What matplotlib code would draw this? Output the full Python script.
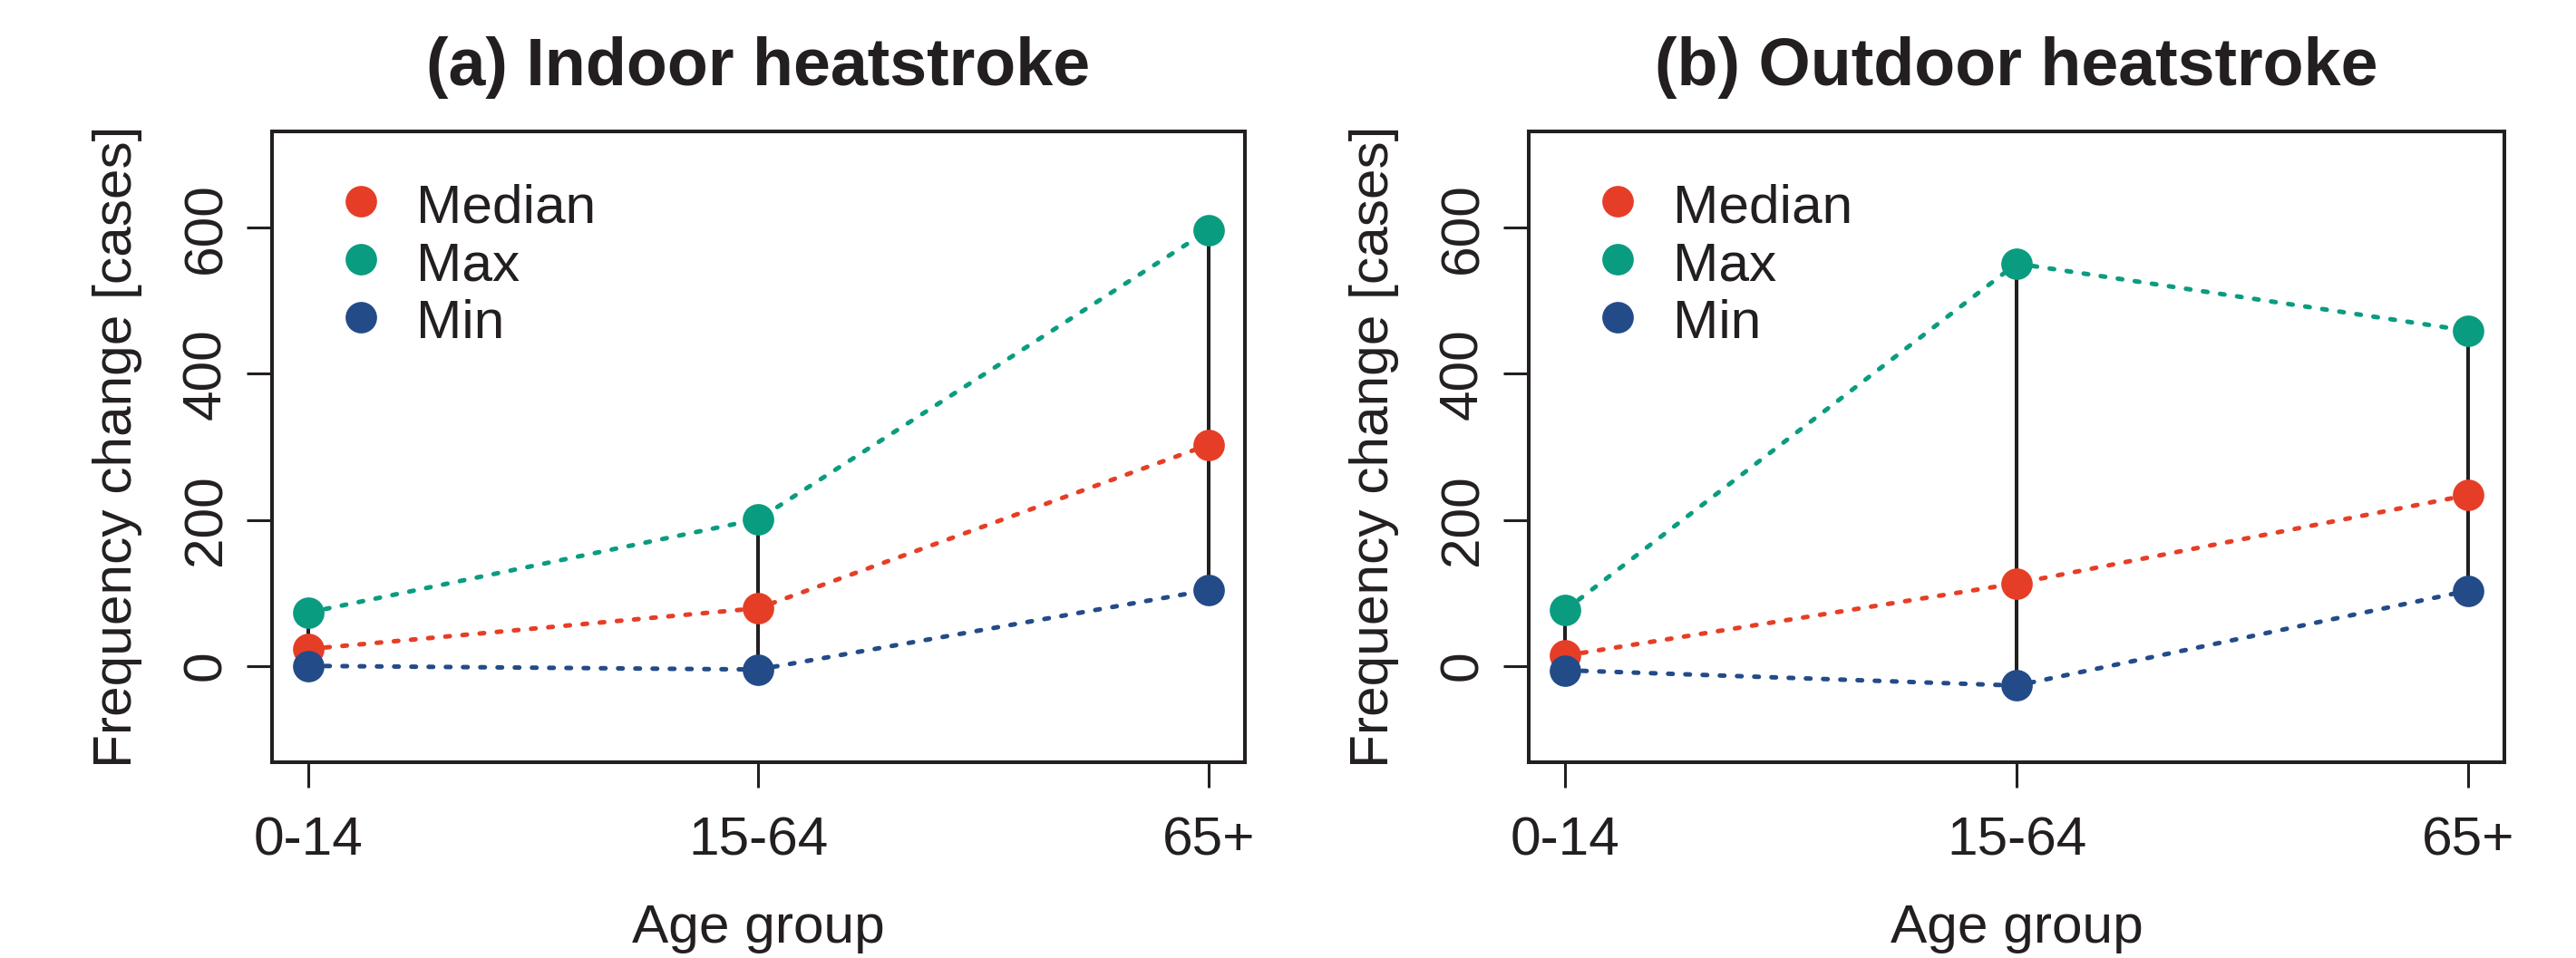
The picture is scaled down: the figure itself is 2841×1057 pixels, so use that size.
import numpy as np
import matplotlib.pyplot as plt

plt.rcParams['font.family'] = ['Liberation Sans', 'DejaVu Sans']

# Data
age_groups = ["0-14", "15-64", "65+"]
panel_titles = ["(a) Indoor heatstroke", "(b) Outdoor heatstroke"]

indoor_median = [23, 79, 303]
indoor_max = [73, 201, 597]
indoor_min = [0, -5, 104]

outdoor_median = [14, 113, 234]
outdoor_max = [76, 551, 459]
outdoor_min = [-6, -27, 103]

series_names = ["Median", "Max", "Min"]
series_colors = ["#E63E26", "#0A9C80", "#234B88"]
ink = "#231F20"

yticks = [0, 200, 400, 600]

fig = plt.figure(figsize=(28.41, 10.57), dpi=100)

panels = [
    (indoor_median, indoor_max, indoor_min),
    (outdoor_median, outdoor_max, outdoor_min),
]
lefts = [300 / 2841, 1686 / 2841]
widths = [1073 / 2841, 1076 / 2841]

x = np.arange(1, len(age_groups) + 1)

for i, (med, mx, mn) in enumerate(panels):
    ax = fig.add_axes([lefts[i], 216 / 1057, widths[i], 696 / 1057])

    # range bars between min and max
    ax.vlines(x, mn, mx, color=ink, lw=2.9, zorder=2)

    for vals, col, name in zip((med, mx, mn), series_colors, series_names):
        ax.plot(x, vals, color=col, lw=3.6, dashes=(1.0, 2.8),
                dash_capstyle='round', zorder=3)
        ax.plot(x, vals, 'o', color=col, ms=25, mec='none', zorder=4)

    # legend (points only, like R legend with pch=16)
    for k, (col, name) in enumerate(zip(series_colors, series_names)):
        yy = 0.889 - k * 0.092
        ax.plot([0.0913], [yy], 'o', color=col, ms=25, mec='none',
                transform=ax.transAxes, clip_on=False)
        ax.text(0.148, yy - 0.033, name, transform=ax.transAxes,
                fontsize=43.5, color=ink, va='baseline', ha='left')

    ax.set_xlim(0.92, 3.08)
    ax.set_ylim(-132, 732)
    ax.set_xticks(x, age_groups, va='baseline')
    ax.set_yticks(yticks, [str(v) for v in yticks], rotation=90,
                  rotation_mode='anchor', ha='center', va='baseline')
    ax.tick_params(axis='x', direction='out', length=20, width=2.2,
                   colors=ink, labelsize=43.5, pad=54)
    ax.tick_params(axis='y', direction='out', length=20, width=2.2,
                   colors=ink, labelsize=43.5, pad=21)
    for sp in ax.spines.values():
        sp.set_linewidth(2.9)
        sp.set_color(ink)

    ax.set_xlabel("Age group", fontsize=43.5, color=ink)
    ax.xaxis.label.set_va('baseline')
    ax.xaxis.set_label_coords(0.5, -(1040 - 841) / 696)
    ax.set_ylabel("Frequency change [cases]", fontsize=43.5, color=ink)
    ax.yaxis.label.set_va('baseline')
    ax.yaxis.set_label_coords(-(300 - 145) / 1073, 0.5)

    ax.text(0.5, 1 + 51 / 696, panel_titles[i], transform=ax.transAxes,
            fontsize=53, fontweight='bold', color=ink,
            ha='center', va='baseline')

fig.savefig("out.png", dpi=100)
